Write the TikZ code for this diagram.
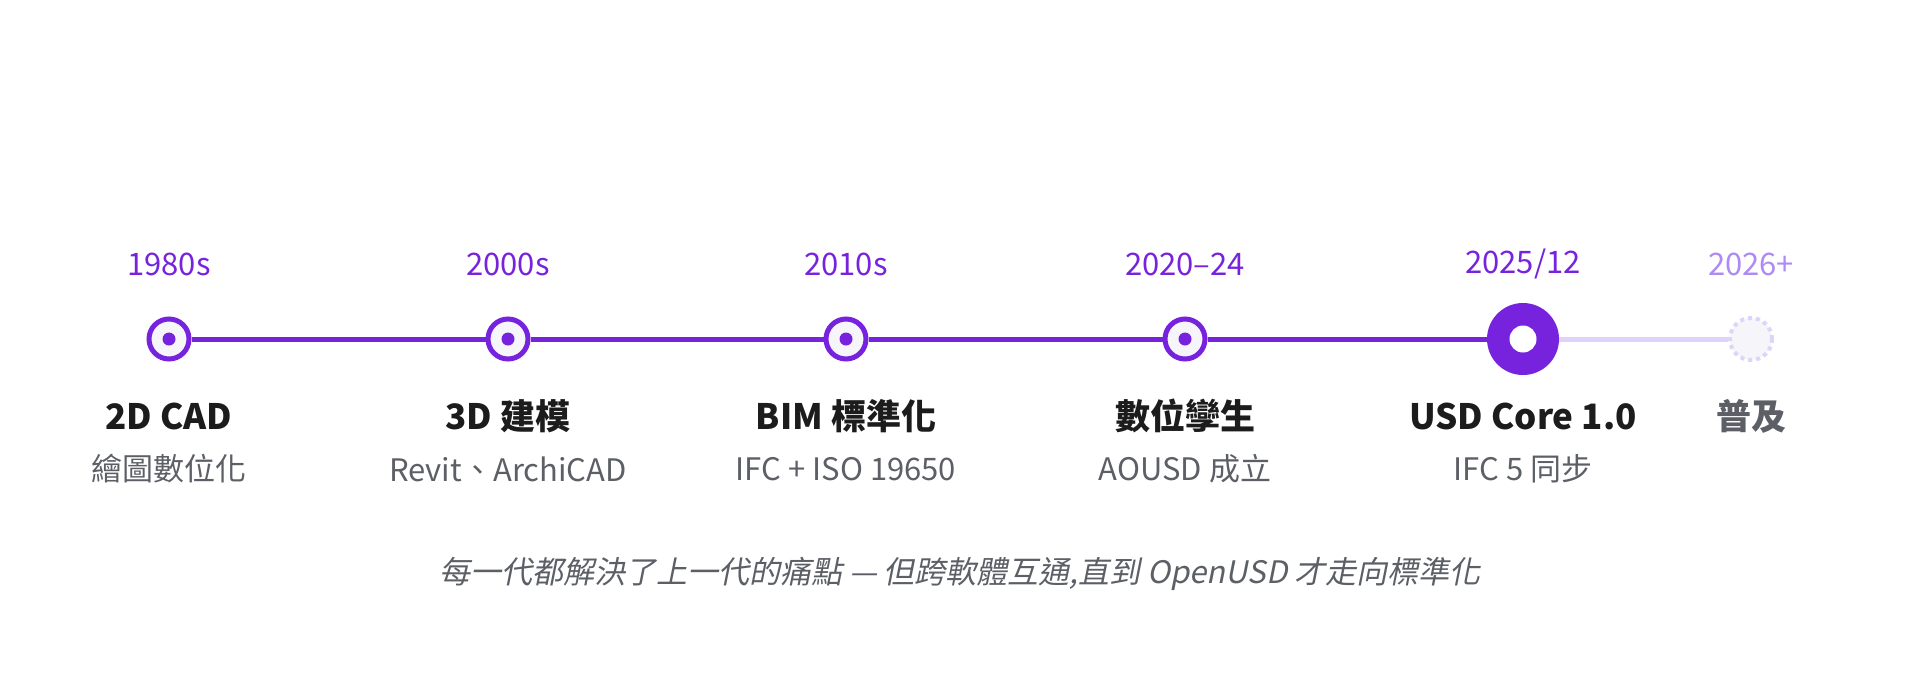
\documentclass[tikz,border=0pt]{standalone}
\usepackage{fontspec}
\setmainfont{Noto Sans CJK TC}
\newfontfamily\capfont[FakeSlant=0.2]{Noto Sans CJK TC}
\definecolor{mainpurple}{HTML}{7722DD}
\definecolor{softpurple}{HTML}{AE8AF4}
\definecolor{linelight}{HTML}{DDD3FB}
\definecolor{titlecolor}{HTML}{1C1C1C}
\definecolor{subcolor}{HTML}{5C6066}
\definecolor{futurefill}{HTML}{F6F6FA}

\begin{document}
\begin{tikzpicture}[x=1pt,y=-1pt,
  year/.style={text=mainpurple, font=\fontsize{31}{36}\selectfont},
  milestone/.style={text=titlecolor, font=\fontsize{35}{40}\selectfont\bfseries},
  detail/.style={text=subcolor, font=\fontsize{31}{36}\selectfont},
  pastdot/.style={circle, draw=mainpurple, line width=5pt, fill=futurefill, minimum size=40pt, inner sep=0pt}]
  \useasboundingbox (0,0) rectangle (1920,678);

  % Milestones along the timeline
  \foreach \x/\name/\yr/\ttl/\sub in {169/a/1980s/2D CAD/繪圖數位化,
      508/b/2000s/3D 建模/Revit、ArchiCAD,
      846/c/2010s/BIM 標準化/IFC + ISO 19650,
      1185/d/2020–24/數位孿生/AOUSD 成立} {
    \node[pastdot] (\name) at (\x,339) {};
    \fill[mainpurple] (\name) circle (6.5pt);
    \node[year] (\name-yr) at (\x,264) {\yr};
    \node[milestone] (\name-ttl) at (\x,416) {\ttl};
    \node[detail] (\name-sub) at (\x,469) {\sub};
  }

  % Current milestone and the future one
  \node[circle, fill=mainpurple, minimum size=72pt, inner sep=0pt] (e) at (1523,339) {};
  \fill[white] (e) circle (13.5pt);
  \node[year] (e-yr) at (1523,264) {2025/12};
  \node[milestone] (e-ttl) at (1523,416) {USD Core 1.0};
  \node[detail] (e-sub) at (1523,469) {IFC 5 同步};

  \node[circle, draw=linelight, dashed, dash pattern=on 4pt off 4pt, line width=4pt, fill=futurefill, minimum size=42pt, inner sep=0pt] (f) at (1751,339) {};
  \node[year, text=softpurple] (f-yr) at (1751,264) {2026+};
  \node[milestone, text=subcolor] (f-ttl) at (1751,416) {普及};

  % Connectors
  \foreach \p/\q in {a/b, b/c, c/d, d/e}
    \draw[mainpurple, line width=5pt] (\p) -- (\q);
  \draw[linelight, line width=5pt] (e) -- (f);

  \node[text=subcolor, font=\fontsize{31}{36}\selectfont\capfont] (caption) at (960,574)
    {每一代都解決了上一代的痛點 — 但跨軟體互通,直到 OpenUSD 才走向標準化};
\end{tikzpicture}
\end{document}
